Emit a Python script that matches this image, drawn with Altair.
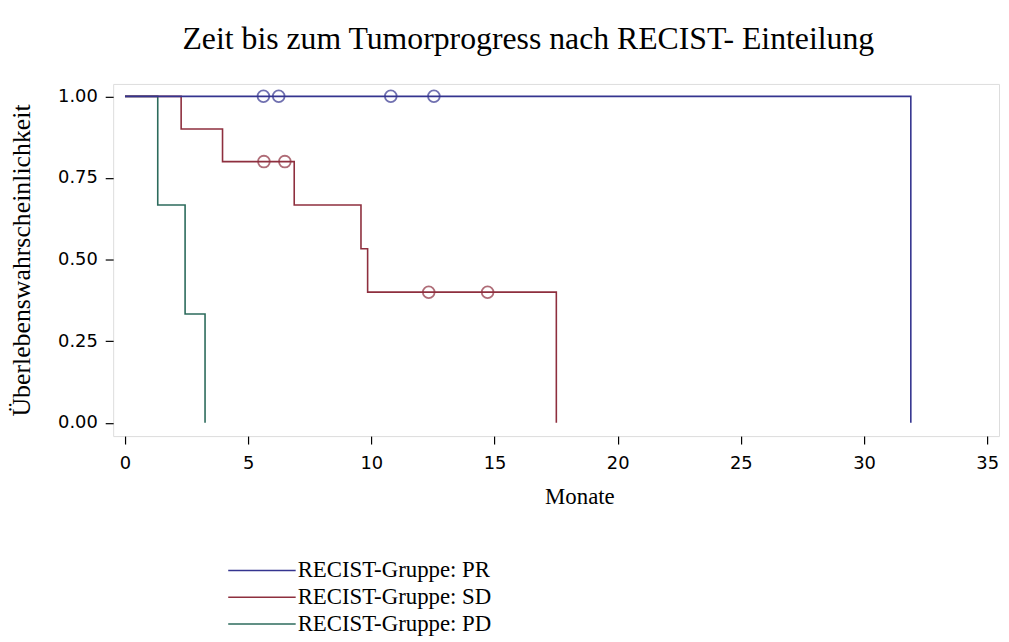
import altair as alt
import pandas as pd

# Kaplan-Meier step curves (time in months, survival probability)
groups = ["RECIST-Gruppe: PR", "RECIST-Gruppe: SD", "RECIST-Gruppe: PD"]
colors = ["#34348f", "#8e2f3e", "#2c6b5c"]

pr_t = [0.0, 31.9]
pr_s = [1.0, 0.0]
sd_t = [0.0, 2.28, 3.96, 6.87, 9.58, 9.85, 17.51]
sd_s = [1.0, 0.9, 0.8, 0.667, 0.533, 0.4, 0.0]
pd_t = [0.0, 1.33, 2.44, 3.25]
pd_s = [1.0, 0.667, 0.333, 0.0]

# censored observations
pr_cens_t = [5.62, 6.24, 10.79, 12.54]
pr_cens_s = [1.0, 1.0, 1.0, 1.0]
sd_cens_t = [5.64, 6.49, 12.33, 14.72]
sd_cens_s = [0.8, 0.8, 0.4, 0.4]

x_ticks = [0, 5, 10, 15, 20, 25, 30, 35]
y_ticks = [0.0, 0.25, 0.5, 0.75, 1.0]

rows = []
for order, (g, ts, ss) in enumerate([(groups[2], pd_t, pd_s), (groups[1], sd_t, sd_s), (groups[0], pr_t, pr_s)]):
    for i, (t, s) in enumerate(zip(ts, ss)):
        rows.append({"Gruppe": g, "t": t, "s": s, "i": i, "o": order})
curves = pd.DataFrame(rows)

crow = []
for g, ts, ss in [(groups[0], pr_cens_t, pr_cens_s), (groups[1], sd_cens_t, sd_cens_s)]:
    for t, s in zip(ts, ss):
        crow.append({"Gruppe": g, "t": t, "s": s})
cens = pd.DataFrame(crow)

serif = "Liberation Serif, Times New Roman, serif"
sans = "DejaVu Sans, sans-serif"

xscale = alt.Scale(domain=[-0.48, 35.48], nice=False, zero=False)
yscale = alt.Scale(domain=[-0.041, 1.038], nice=False, zero=False)
cscale = alt.Scale(domain=groups, range=colors)

xaxis = alt.Axis(values=x_ticks, title="Monate", grid=False, domain=False,
                 tickSize=8, tickColor="black", tickWidth=1.2,
                 labelFont=sans, labelFontSize=18, labelColor="black", labelPadding=11,
                 titleFont=serif, titleFontSize=23, titleFontWeight="normal", titleColor="black",
                 titleX=470, titleY=61, titleAlign="center", titleBaseline="middle")
yaxis = alt.Axis(values=y_ticks, format=".2f", title="Überlebenswahrscheinlichkeit", grid=False, domain=False,
                 tickSize=8, tickColor="black", tickWidth=1.2,
                 labelFont=sans, labelFontSize=18, labelColor="black", labelPadding=8,
                 titleFont=serif, titleFontSize=26, titleFontWeight="normal", titleColor="black",
                 titleX=-92, titleBaseline="middle")

lines = alt.Chart(curves).mark_line(interpolate="step-after", strokeWidth=1.6).encode(
    x=alt.X("t:Q", scale=xscale, axis=xaxis),
    y=alt.Y("s:Q", scale=yscale, axis=yaxis),
    color=alt.Color("Gruppe:N", scale=cscale, sort=groups,
                    legend=alt.Legend(title=None, orient="none", legendX=115, legendY=479,
                                      symbolType="stroke", symbolSize=4624, symbolStrokeWidth=1.5,
                                      clipHeight=23, rowPadding=3, labelOffset=1, padding=0,
                                      labelFont=serif, labelFontSize=23, labelColor="black",
                                      labelLimit=400)),
    detail="o:N",
    order="i:Q",
)

points = alt.Chart(cens).mark_point(shape="circle", filled=False, size=140, strokeWidth=1.8).encode(
    x=alt.X("t:Q", scale=xscale),
    y=alt.Y("s:Q", scale=yscale),
    color=alt.Color("Gruppe:N", scale=cscale, legend=None),
)

chart = alt.layer(lines, points).properties(
    width=893, height=355,
    title=alt.TitleParams("Zeit bis zum Tumorprogress nach RECIST- Einteilung",
                          font=serif, fontSize=32, fontWeight="normal", color="black",
                          anchor="middle", offset=28, dx=-28),
    autosize=alt.AutoSizeParams(type="none"),
    padding={"left": 106, "top": 74, "right": 2, "bottom": 203},
).configure_view(stroke="black", strokeWidth=2).configure(background="white")

chart.save("out.html", embed_options={"renderer": "svg", "actions": False})
